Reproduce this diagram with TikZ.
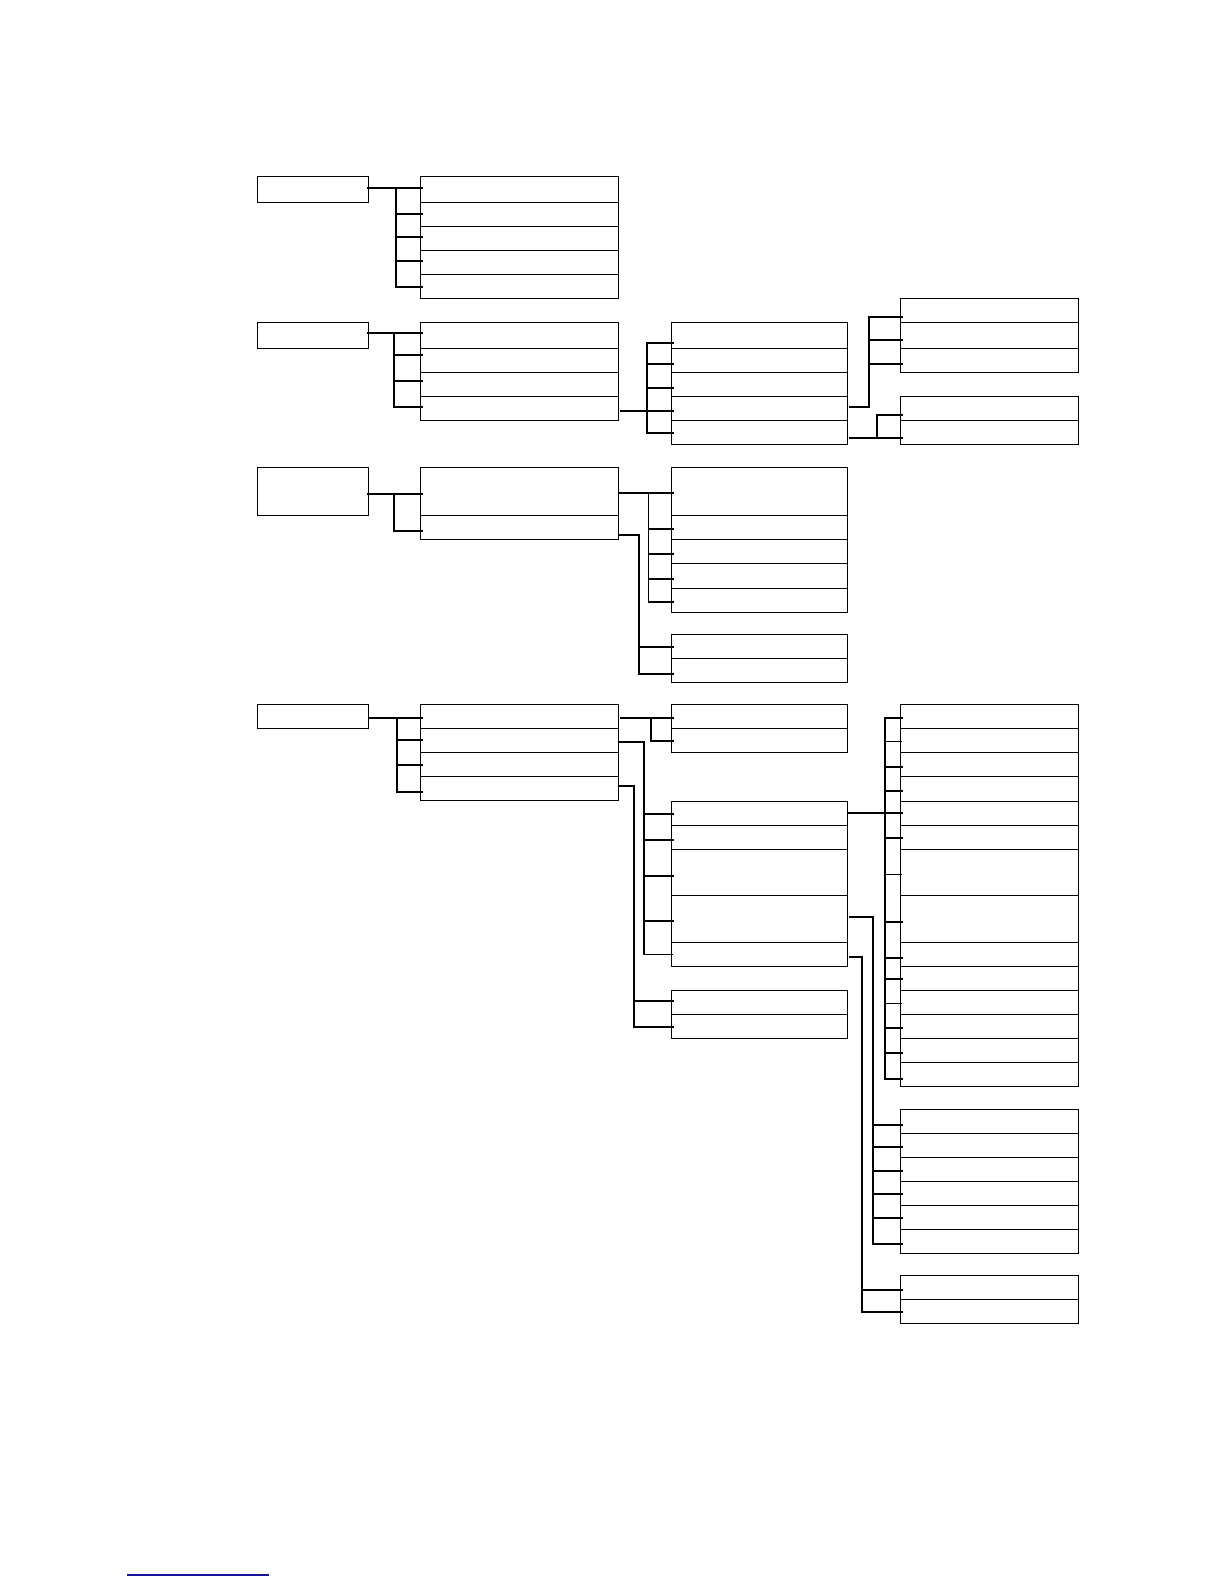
\documentclass[tikz,border=0pt]{standalone}
\usetikzlibrary{fit,calc}
\definecolor{linkblue}{RGB}{20,20,160}
\newcommand\bx[5]{\node[box,fit={(#2,#3) (#4,#5)}] (#1) {};}
\newcommand\colR[3]{\bx{#1}{257}{#2}{368}{#3}}
\newcommand\colA[3]{\bx{#1}{420.3}{#2}{618.5}{#3}}
\newcommand\colB[3]{\bx{#1}{671.3}{#2}{847.5}{#3}}
\newcommand\colC[3]{\bx{#1}{900.3}{#2}{1078.5}{#3}}
% branch: trunk, child, dy
\newcommand\brch[4][conn]{\draw[#1] ($(#2 |- #3.west)+(0,#4)$) -- ($(#3.west)+(2,#4)$);}
% trunk: trunk, anchorA, dyA, anchorB, dyB
\newcommand\trunk[6][conn]{\draw[#1] ($(#2 |- #3)+(0,#4)$) -- ($(#2 |- #5)+(0,#6)$);}
% feed: parent, trunk, start gap, dy
\newcommand\feed[4]{\draw[conn] ($(#1.east)+(#3,#4)$) -- ($(#2 |- #1.east)+(0,#4)$);}
\begin{document}
\begin{tikzpicture}[x=0.5bp,y=-0.5bp,
  box/.style={draw,line width=0.5bp,inner sep=0pt,outer sep=0pt},
  conn/.style={line width=0.9bp,line cap=rect},
  thinc/.style={line width=0.4bp},
  midc/.style={line width=0.6bp,line cap=rect}]
\useasboundingbox (0,0) rectangle (1224,1584);

% ---------- group 1
\colR{r1}{176.3}{202}
\colA{g1a}{176.3}{202.3}
\colA{g1b}{202.3}{226.3}
\colA{g1c}{226.3}{250.3}
\colA{g1d}{250.3}{274.3}
\colA{g1e}{274.3}{298.3}
\coordinate (t1) at ($(r1.east)+(28,0)$);
\feed{r1}{t1}{0}{-1}
\trunk{t1}{r1.east}{-1}{g1e.west}{0.7}
\brch{t1}{g1a}{-1.3}
\brch{t1}{g1b}{-0.6}
\brch{t1}{g1c}{-1}
\brch{t1}{g1d}{-1.6}
\brch{t1}{g1e}{0.7}

% ---------- group 2
\colR{r2}{322.3}{348.3}
\colA{g2a}{322.3}{348.3}
\colA{g2b}{348.3}{372.3}
\colA{g2c}{372.3}{396.3}
\colA{g2d}{396.3}{420.3}
\coordinate (t2) at ($(r2.east)+(26,0)$);
\feed{r2}{t2}{0}{-2.6}
\trunk{t2}{r2.east}{-2.6}{g2d.west}{-1.6}
\brch{t2}{g2a}{-2.6}
\brch{t2}{g2b}{-5.3}
\brch{t2}{g2c}{-3.6}
\brch{t2}{g2d}{-1.6}

\colB{h2a}{322.3}{348.3}
\colB{h2b}{348.3}{372.3}
\colB{h2c}{372.3}{396.3}
\colB{h2d}{396.3}{420.3}
\colB{h2e}{420.3}{444.3}
\coordinate (t2b) at ($(g2d.east)+(28.5,0)$);
\feed{g2d}{t2b}{2}{2.4}
\trunk{t2b}{h2a.west}{7.4}{h2e.west}{0.4}
\brch{t2b}{h2a}{7.4}
\brch{t2b}{h2b}{3.4}
\brch{t2b}{h2c}{3.7}
\brch{t2b}{h2d}{2.4}
\brch{t2b}{h2e}{0.4}

\colC{k2a}{298.3}{322.3}
\colC{k2b}{322.3}{348.3}
\colC{k2c}{348.3}{372.3}
\coordinate (t2c) at ($(h2d.east)+(21.5,0)$);
\feed{h2d}{t2c}{2}{-1.3}
\trunk{t2c}{k2a.west}{6.4}{h2d.east}{-1.3}
\brch{t2c}{k2a}{6.4}
\brch{t2c}{k2b}{4.7}
\brch{t2c}{k2c}{3.4}

\colC{k2d}{396.3}{420.3}
\colC{k2e}{420.3}{444.3}
\coordinate (t2d) at ($(h2e.east)+(29.5,0)$);
\feed{h2e}{t2d}{2}{5.4}
\trunk{t2d}{k2d.west}{6.7}{h2e.east}{5.4}
\brch{t2d}{k2d}{6.7}
\brch{t2d}{k2e}{5.4}

% ---------- group 3
\colR{r3}{467.3}{515.3}
\colA{g3a}{467.3}{515.3}
\colA{g3b}{515.3}{539.3}
\coordinate (t3) at ($(r3.east)+(26.3,0)$);
\feed{r3}{t3}{0}{2.7}
\trunk{t3}{r3.east}{2.7}{g3b.west}{3.7}
\brch{t3}{g3a}{2.7}
\brch{t3}{g3b}{3.7}

\colB{h3a}{467.3}{515.3}
\colB{h3b}{515.3}{539.3}
\colB{h3c}{539.3}{563.3}
\colB{h3d}{563.3}{588}
\colB{h3e}{588}{612.3}
\coordinate (t3b) at ($(g3a.east)+(30,0)$);
\feed{g3a}{t3b}{0}{1.7}
\trunk{t3b}{h3a.west}{1.7}{h3e.west}{1.55}
\brch{t3b}{h3a}{1.7}
\brch{t3b}{h3b}{1.4}
\brch{t3b}{h3c}{3}
\brch{t3b}{h3d}{3.35}
\brch{t3b}{h3e}{1.55}

\colB{h3f}{634.3}{658.3}
\colB{h3g}{658.3}{682.3}
\coordinate (t3c) at ($(g3b.east)+(20.3,0)$);
\feed{g3b}{t3c}{0}{7.4}
\trunk{t3c}{g3b.east}{7.4}{h3g.west}{3.7}
\brch{t3c}{h3f}{0.7}
\brch{t3c}{h3g}{3.7}

% ---------- group 4
\colR{r4}{704.3}{728.3}
\colA{g4a}{704.3}{728.3}
\colA{g4b}{728.3}{752.3}
\colA{g4c}{752.3}{776.3}
\colA{g4d}{776.3}{800.3}
\coordinate (t4) at ($(r4.east)+(29,0)$);
\feed{r4}{t4}{1.5}{1.7}
\trunk{t4}{r4.east}{1.7}{g4d.west}{3.4}
\brch{t4}{g4a}{1.7}
\brch{t4}{g4b}{-0.6}
\brch{t4}{g4c}{0.7}
\brch{t4}{g4d}{3.4}

\colB{h4a}{704.3}{728.3}
\colB{h4b}{728.3}{752.3}
\coordinate (t4a) at ($(g4a.east)+(32.5,0)$);
\feed{g4a}{t4a}{2.5}{1.7}
\trunk{t4a}{g4a.east}{1.7}{h4b.west}{0.7}
\brch{t4a}{h4a}{1.7}
\brch{t4a}{h4b}{0.7}

\colB{h4c}{801.3}{825.3}
\colB{h4d}{825.3}{849.3}
\colB{h4e}{849.3}{895.3}
\colB{h4f}{895.3}{942.3}
\colB{h4g}{942.3}{966.3}
\coordinate (t4b) at ($(g4b.east)+(25.2,0)$);
\feed{g4b}{t4b}{0}{1.7}
\trunk{t4b}{g4b.east}{1.7}{h4g.west}{0}
\brch{t4b}{h4c}{0.4}
\brch{t4b}{h4d}{2.7}
\brch{t4b}{h4e}{3.4}
\brch{t4b}{h4f}{1.9}
\brch[thinc]{t4b}{h4g}{0}

\colB{h4h}{990.3}{1014.3}
\colB{h4i}{1014.3}{1038.3}
\coordinate (t4c) at ($(g4d.east)+(15.2,0)$);
\feed{g4d}{t4c}{0}{-2.6}
\trunk{t4c}{g4d.east}{-2.6}{h4i.west}{0.7}
\brch{t4c}{h4h}{-1.6}
\brch{t4c}{h4i}{0.7}

\colC{k4a}{704.3}{728.3}
\colC{k4b}{728.3}{752.3}
\colC{k4c}{752.3}{776.3}
\colC{k4d}{776.3}{801.3}
\colC{k4e}{801.3}{825.3}
\colC{k4f}{825.3}{849.3}
\colC{k4g}{849.3}{895.3}
\colC{k4h}{895.3}{942.3}
\colC{k4i}{942.3}{966.3}
\colC{k4j}{966.3}{990.3}
\colC{k4k}{990.3}{1014.3}
\colC{k4l}{1014.3}{1038.3}
\colC{k4m}{1038.3}{1062.3}
\colC{k4n}{1062.3}{1086.3}
\coordinate (t4d) at ($(h4c.east)+(37.5,0)$);
\feed{h4c}{t4d}{0}{-0.3}
\trunk[midc]{t4d}{k4a.west}{1.7}{k4n.west}{4.4}
\brch{t4d}{k4a}{1.7}
\brch[thinc]{t4d}{k4b}{1.4}
\brch{t4d}{k4c}{2.7}
\brch{t4d}{k4d}{1.9}
\brch{t4d}{k4e}{-0.3}
\brch{t4d}{k4f}{0.4}
\brch[thinc]{t4d}{k4g}{2}
\brch{t4d}{k4h}{2.9}
\brch{t4d}{k4i}{3.4}
\brch{t4d}{k4j}{0.4}
\brch[thinc]{t4d}{k4k}{1}
\brch{t4d}{k4l}{1.4}
\brch{t4d}{k4m}{2.4}
\brch{t4d}{k4n}{4.4}

\colC{k4o}{1109.3}{1133.3}
\colC{k4p}{1133.3}{1157.3}
\colC{k4q}{1157.3}{1181.3}
\colC{k4r}{1181.3}{1205.3}
\colC{k4s}{1205.3}{1229.3}
\colC{k4t}{1229.3}{1253.3}
\coordinate (t4e) at ($(h4f.east)+(25.8,0)$);
\feed{h4f}{t4e}{2}{-1.8}
\trunk{t4e}{h4f.east}{-1.8}{k4t.west}{2.4}
\brch{t4e}{k4o}{3.4}
\brch{t4e}{k4p}{1.7}
\brch{t4e}{k4q}{1.4}
\brch{t4e}{k4r}{0.4}
\brch{t4e}{k4s}{0.4}
\brch{t4e}{k4t}{2.4}

\colC{k4u}{1275.3}{1299.3}
\colC{k4v}{1299.3}{1323.3}
\coordinate (t4f) at ($(h4g.east)+(14.5,0)$);
\feed{h4g}{t4f}{2}{3}
\trunk{t4f}{h4g.east}{3}{k4v.west}{0.4}
\brch{t4f}{k4u}{2.7}
\brch{t4f}{k4v}{0.4}

% ---------- blue rule at the bottom
\draw[line width=0.6bp,linkblue] (127,1575) -- (269,1575);
\end{tikzpicture}
\end{document}
